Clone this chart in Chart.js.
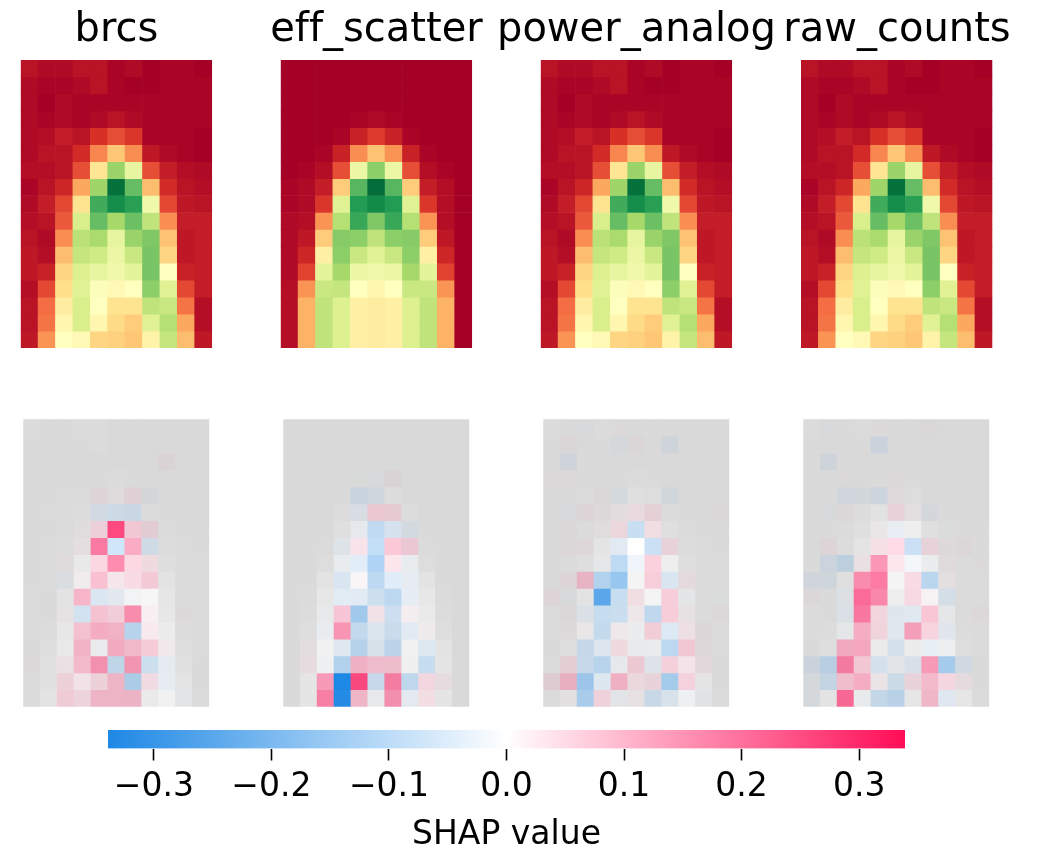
<!DOCTYPE html>
<html>
<head>
<meta charset="utf-8">
<title>SHAP image plot</title>
<script src="https://cdn.jsdelivr.net/npm/chart.js@4"></script>
<style>
  html, body { margin: 0; padding: 0; background: #fff; }
  #page { position: relative; width: 1041px; height: 848px; overflow: hidden; filter: blur(0.4px); }
  canvas { position: absolute; }
  .panel-title {
    position: absolute; top: 3px; width: 400px; text-align: center; white-space: nowrap;
    font: 40px/48px "DejaVu Sans", sans-serif; font-variant-ligatures: none; color: #000;
  }
</style>
</head>
<body>
<div id="page"></div>
<script>
// panel titles and colour bar ticks
const panelTitles = ['brcs', 'eff_scatter', 'power_analog', 'raw_counts'];
const colorbarTicks = [-0.3, -0.2, -0.1, 0, 0.1, 0.2, 0.3];
const colorbarMax = 0.339;

// input images, 0..100 along RdYlGn (rows top to bottom)
const imgBrcs = [
  [4, 2, 2, 4, 4, 1, 2, 0, 1, 1, 0],
  [2, 1, 1, 2, 4, 1, 0, 0, 1, 1, 1],
  [2, 0, 2, 1, 1, 1, 1, 1, 1, 1, 1],
  [2, 1, 2, 1, 2, 4, 2, 1, 1, 1, 1],
  [2, 3, 6, 4, 10, 15, 11, 1, 1, 1, 0],
  [2, 4, 4, 9, 24, 35, 25, 5, 2, 1, 0],
  [3, 3, 4, 15, 42, 72, 56, 15, 6, 3, 2],
  [1, 4, 8, 29, 71, 98, 80, 33, 9, 4, 3],
  [2, 6, 14, 41, 85, 92, 88, 54, 14, 5, 4],
  [3, 4, 17, 60, 80, 70, 79, 65, 25, 6, 6],
  [4, 2, 25, 66, 69, 56, 72, 76, 34, 5, 6],
  [5, 3, 33, 64, 62, 55, 63, 77, 38, 5, 6],
  [5, 7, 38, 59, 56, 54, 57, 77, 50, 7, 6],
  [3, 14, 40, 58, 51, 48, 50, 74, 58, 14, 6],
  [4, 20, 44, 60, 50, 41, 41, 65, 63, 21, 3],
  [4, 21, 47, 60, 47, 39, 36, 58, 67, 29, 3],
  [5, 26, 50, 48, 38, 37, 35, 46, 64, 33, 5]
];
const imgScatter = [
  [0, 0, 0, 0, 0, 0, 0, 0, 0, 0, 0],
  [0, 0, 0, 0, 0, 0, 0, 0, 0, 0, 0],
  [0, 0, 0, 0, 0, 0, 0, 0, 0, 0, 0],
  [0, 0, 0, 0, 1, 2, 1, 0, 0, 0, 0],
  [0, 0, 0, 1, 7, 12, 7, 1, 0, 0, 0],
  [0, 0, 1, 7, 25, 34, 26, 7, 1, 0, 0],
  [0, 1, 3, 15, 55, 74, 55, 15, 3, 1, 0],
  [1, 2, 6, 36, 82, 99, 82, 36, 6, 3, 0],
  [1, 2, 11, 58, 89, 93, 89, 58, 11, 3, 0],
  [2, 3, 26, 67, 86, 76, 86, 67, 26, 3, 0],
  [2, 5, 36, 75, 74, 65, 74, 75, 36, 5, 0],
  [2, 8, 45, 74, 63, 58, 63, 74, 45, 8, 0],
  [2, 13, 57, 70, 55, 54, 55, 70, 57, 13, 0],
  [3, 26, 63, 64, 50, 47, 50, 63, 63, 26, 0],
  [3, 31, 65, 59, 45, 44, 45, 59, 65, 31, 0],
  [3, 31, 65, 59, 45, 44, 45, 59, 65, 31, 0],
  [3, 31, 65, 59, 45, 44, 45, 59, 65, 31, 0]
];
// power_analog and raw_counts look the same as brcs in the picture
const imgPower = imgBrcs;
const imgRaw = imgBrcs;

// SHAP values in hundredths
const shapBrcs = [
  [0, 0, 0, 0, 0, 0, 0, 0, 0, 0, 0],
  [0, 0, 0, 0, 0, 0, 0, 0, 0, 0, 0],
  [0, 0, 0, 0, 0, 0, 0, 0, 1, 0, 0],
  [0, 0, 0, 0, 0, 0, 0, 0, 0, 0, 0],
  [0, 0, 0, 0, 1.5, 0.8, 2, -1, 0, 0, 0],
  [0, 0, 0, 0, -3, -4.5, -4.5, 0, 0, 0, 0],
  [0, 0, 0, 0.5, 4, 25, 6, 3, 0, 0, 0],
  [0, 0, 0, 1, 18, -7, 11, -4, 0, 0, 0],
  [0, 0, 0.5, 0, 5, 16, 5, 3, 0, 0, 0],
  [0, 0, -1, 0.5, 8, 2, 4, 6, 0, 0, 0],
  [0, 0, 0, 9, -4, -2, -0.5, 0, 0, 0, 0],
  [0, 0, 0.5, -5, 7, 5, 15, 1, 0, 0.3, 0],
  [0, 0, 0, 7, 10, 9, -9, 2, 0, 0, 0],
  [0, 0, 0, 9, -0.5, 10, 8, 6, 1, 0, 0],
  [0.3, 0, 1.5, 8, 14, -7, 13, -6, -2, 0, 0],
  [0, 0, 4, 2, 4, 8, -10, 3, -2, 0, 0],
  [0, 0, 5, 3.5, 8, 8, 8, 0, 0, -0.5, 0]
];
const shapScatter = [
  [0, 0, 0, 0, 0, 0, 0, 0, 0, 0, 0],
  [0, 0, 0, 0, 0, 0, 0, 0, 0, 0, 0],
  [0, 0, 0, 0, 0, 0, 0, 0, 0, 0, 0],
  [0, 0, 0, 0, -0.3, -0.3, 1, 0, 0, 0, 0],
  [0, 0, 0, 0, -3.5, -2.5, 0, 0, 0, 0, 0],
  [0, 0, 0, 0, -2, 5, 4, 0, 0, 0, 0],
  [0, 0, 0, 0, -1.5, -8.5, -4, -2, 0, 0, 0],
  [0, 0, 0, -1.5, 3, -9, 7, 5, 0, 0, 0],
  [0, 0, 0, -1, -4, -12, 3, -1, 0, 0, 0],
  [0, 0, 0, -4, 0.5, -9, -4, -2, 0, 0, 0],
  [0, 0, 0, -3, -3, -6, -9, -2.5, 0, 0, 0],
  [0, 0, -0.5, 7, -13, 2, -6, 1, 0, 0, 0],
  [0, 0, -1, 14, -7, -3, -6, -3, 0.5, 0, 0],
  [0, 1, 0, -3, -9, -3.5, -8, 0, -3, 0, 0],
  [0, 1.5, -0.5, -10, 9, 7, 7, 0, -7, 0, 0],
  [0, 0, 13, -34, 25, -6, 17, -8, 4, 1.5, 0],
  [0, 0, 17, -33, 8, -0.5, 14, -2, 3, 0, 0]
];
const shapPower = [
  [0, 0, -0.3, 0, 0.3, 0, 0, 0, 0, 0, 0],
  [0, 0.7, 0, 0, -1, 0.5, 0, -2, 0, 0, 0],
  [0, -2, 0, 0, 0, 0, 0, 0, 0, 0, 0],
  [0.3, 0.3, 0, 0, 0, 0, 0, 0, 0, 0, 0],
  [0, 0, 0, 0.5, -1.5, 0, 0, -1.5, 0, 0, 0],
  [0, -0.3, 1, 0.8, 1, 2, 3, 0, 0, 0, 0.3],
  [0, 0.5, 0, 0.5, 3, -7, 2.5, 0, 0, 0, 0],
  [0, 0.5, 0.8, 0, -3, 0, -7, 3, 0, 0, 0],
  [0, 0, 0, -0.5, -9, -2, 6, 0, 0, 0, 0],
  [0, 1, 7, -10, -15, 0, 6, -4, 1.5, 0, 0],
  [1, -0.5, 0, -24, -7, 2.5, 0, 6, -0.5, 0, -0.3],
  [0, 0.5, -2, -7, -6, 1, -8, 6, 1, 0, 0.5],
  [0, 0.5, 0.3, -7, 1, -0.5, 5, -4, 2, 1, 0],
  [0, 0, -6, -3, 3, -0.5, -0.5, -9, 6, 1, 0],
  [0, 3, -6, -9, -1, 5, -2, 5, 2, 1.5, 0],
  [2.5, 8, -13, -3, 9, 2.5, 3, -12, 5, 0, 0],
  [0, 0.5, -11, 4, -1, 1, -5, -3, -0.5, -1, 0]
];
const shapRaw = [
  [0, -0.3, 0, 0, 0.3, 0, 0, 0.3, 0, 0, 0],
  [0, 0, 0, 0, -3, 0, 0, 0, 0, 0, 0],
  [0, -2, 0, 0, 0, 0, 0, 0, 0, 0, 0],
  [0, 0, 0.3, 0, 0, 0.3, 0, 0, 0, 0, 0],
  [0, 0, -2, -1.5, -3, 1, 0, 0, 0, 0, 0],
  [0, -0.5, 0.5, 0, 0, 3, 0.5, -1.5, 0, 0, 0],
  [0, 0, 0, 0, 0.5, -2, 0, 0, -0.3, 0, 0],
  [0, 1, 0, 0, 3, 5, -7, 3, 0.7, 0.5, 0],
  [0, -3, -6, 1.5, 14, 3, -1, -0.5, 0.5, 0, 0.3],
  [-2, -2, 0, 15, 18, 0, 4, -9, 0.7, 0, 0],
  [0.5, 0, -1, 20, 16, 0, 4, 0.5, -3, 0, 0],
  [0, 0, -2, 18, 4, -2.5, -2.5, 7, -0.5, 0, 0.7],
  [0, 0, -0.5, 10, 4, -2, 12, 5, -2, 0, 0],
  [0, 0, 10, 11, -0.3, -4, 0, -2, -0.3, 0, 0],
  [-3, -7, 17, 6, -4, -1, -3, 13, -12, -3, 0],
  [-1, -5, 7, 10, 1, -5, 3, 8, 4, 1.5, 0],
  [-1, 0, 20, -0.5, -6, -8, 0, 8, -3, 0, 0]
];

const FONT = '"DejaVu Sans", sans-serif';
const RDYLGN = ['#a50026', '#d73027', '#f46d43', '#fdae61', '#fee08b', '#ffffbf',
                '#d9ef8b', '#a6d96a', '#66bd63', '#1a9850', '#006837'];
const SHAP_BLUE = [30, 136, 229];
const SHAP_RED = [255, 13, 87];

function hexToRgb(hex) {
  return [1, 3, 5].map(i => parseInt(hex.slice(i, i + 2), 16));
}

function mix(a, b, t) {
  return a.map((v, i) => Math.round(v + (b[i] - v) * t));
}

function css(rgb) {
  return 'rgb(' + rgb.join(',') + ')';
}

function imgColor(v) {
  const pos = Math.min(v, 99.99) / 10;
  const i = Math.floor(pos);
  return css(mix(hexToRgb(RDYLGN[i]), hexToRgb(RDYLGN[i + 1]), pos - i));
}

// gray copy of the input under a see-through SHAP layer
function shapColor(s, v) {
  const g = 217 + 38 * v / 100;
  return css(mix([g, g, g], s < 0 ? SHAP_BLUE : SHAP_RED, Math.min(Math.abs(s) / 34, 1)));
}

function addCanvas(left, top, width, height) {
  const canvas = document.createElement('canvas');
  canvas.width = width;
  canvas.height = height;
  canvas.style.left = left + 'px';
  canvas.style.top = top + 'px';
  canvas.style.width = width + 'px';
  canvas.style.height = height + 'px';
  document.getElementById('page').appendChild(canvas);
  return canvas;
}

function addTitle(text, centerX) {
  const div = document.createElement('div');
  div.className = 'panel-title';
  div.textContent = text;
  div.style.left = (centerX - 200) + 'px';
  document.getElementById('page').appendChild(div);
}

// every row is one dataset of floating bars, one bar per column
function initCellChart(canvas, rows, colorOf, padding) {
  const labels = rows[0].map((_, c) => c);
  const datasets = rows.map((row, r) => ({
    data: row.map(() => [r, r + 1]),
    backgroundColor: row.map((v, c) => colorOf(v, r, c)),
    borderWidth: 0,
    barPercentage: 1,
    categoryPercentage: 1,
    grouped: false
  }));
  new Chart(canvas, {
    type: 'bar',
    data: { labels: labels, datasets: datasets },
    options: {
      responsive: false,
      animation: false,
      layout: { padding: padding },
      plugins: { legend: { display: false }, tooltip: { enabled: false } },
      scales: {
        x: { display: false, offset: true },
        y: { display: false, reverse: true, min: 0, max: rows.length }
      }
    }
  });
}

function initColorbar(canvas) {
  new Chart(canvas, {
    type: 'bar',
    data: {
      labels: [''],
      datasets: [{
        data: [[-colorbarMax, colorbarMax]],
        borderWidth: 0,
        barPercentage: 1,
        categoryPercentage: 1,
        backgroundColor: (ctx) => {
          const area = ctx.chart.chartArea;
          if (!area) return '#fff';
          const g = ctx.chart.ctx.createLinearGradient(area.left, 0, area.right, 0);
          g.addColorStop(0, css(SHAP_BLUE));
          g.addColorStop(0.5, '#ffffff');
          g.addColorStop(1, css(SHAP_RED));
          return g;
        }
      }]
    },
    options: {
      indexAxis: 'y',
      responsive: false,
      animation: false,
      layout: { padding: { left: 108, right: 136, top: 5, bottom: 0 } },
      plugins: { legend: { display: false }, tooltip: { enabled: false } },
      scales: {
        y: { display: false },
        x: {
          min: -colorbarMax,
          max: colorbarMax,
          border: { display: false },
          grid: {
            drawOnChartArea: false,
            drawTicks: true,
            tickLength: 12,
            tickWidth: 1.6,
            tickColor: '#000'
          },
          afterBuildTicks: (axis) => {
            axis.ticks = colorbarTicks.map(v => ({ value: v }));
          },
          // the layout caps an axis at half the canvas, this one needs more
          afterFit: (axis) => {
            axis.height = 106.5;
          },
          ticks: {
            color: '#000',
            maxRotation: 0,
            autoSkip: false,
            padding: 7,
            font: { family: FONT, size: 33 },
            callback: (v) => (v < 0 ? '\u2212' : '') + Math.abs(v).toFixed(1)
          },
          title: {
            display: true,
            text: 'SHAP value',
            color: '#000',
            font: { family: FONT, size: 33 },
            padding: { top: 8, bottom: 0 }
          }
        }
      }
    }
  });
}

const topRows = [imgBrcs, imgScatter, imgPower, imgRaw];
const bottomRows = [shapBrcs, shapScatter, shapPower, shapRaw];
const titleCenter = [116.5, 376.5, 636.5, 897];
const topLeft = [20.7, 280.7, 540.7, 801];
const bottomLeft = [23.3, 283.3, 543.3, 803.3];

panelTitles.forEach((name, i) => {
  addTitle(name, titleCenter[i]);

  const tl = Math.floor(topLeft[i]);
  initCellChart(addCanvas(tl, 60, 193, 288), topRows[i], (v) => imgColor(v),
    { left: topLeft[i] - tl, right: 193 - (topLeft[i] - tl) - 191.4, top: 0, bottom: 0 });

  const bl = Math.floor(bottomLeft[i]);
  const source = topRows[i];
  initCellChart(addCanvas(bl, 419, 188, 288), bottomRows[i], (s, r, c) => shapColor(s, source[r][c]),
    { left: bottomLeft[i] - bl, right: 188 - (bottomLeft[i] - bl) - 186, top: 0.3, bottom: 0.3 });
});

initColorbar(addCanvas(0, 725, 1041, 130));
</script>
</body>
</html>
